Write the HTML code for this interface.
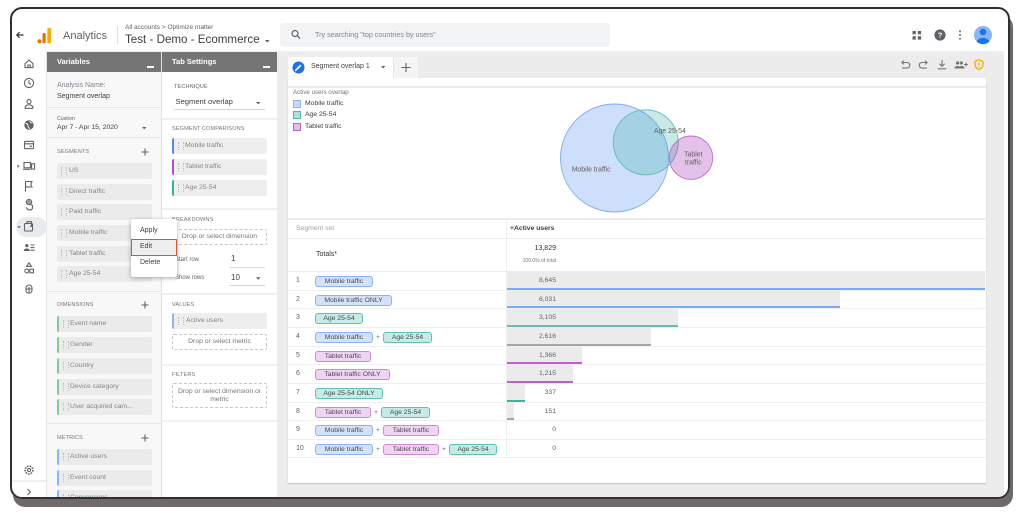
<!DOCTYPE html>
<html><head><meta charset="utf-8"><title>Analytics - Segment overlap</title>
<style>
*{margin:0;padding:0;box-sizing:border-box}
html,body{width:1024px;height:518px;background:#fff;overflow:hidden}
body{position:relative;font-family:"Liberation Sans",Arial,sans-serif;color:#3c4043}
.a{position:absolute}
.t{position:absolute;white-space:nowrap;line-height:10px;height:10px}
#clip{position:absolute;left:0;top:0;width:1024px;height:518px;clip-path:inset(9px 16px 21px 12px round 10px);background:#fff}
#frame{position:absolute;left:10px;top:7px;width:1000px;height:492px;border:2px solid #2f2f2f;border-radius:12px;box-shadow:3px 8px 0 0 #6f6a6a}
.hd{position:absolute;top:52px;height:20px;background:#757575}
.sec{font-size:5.6px;color:#757575;letter-spacing:.1px}
.vc{position:absolute;left:57px;width:95px;height:16px;background:#ebebeb;border-radius:2px;font-size:6.8px;color:#80868b;line-height:16px;padding-left:12px;white-space:nowrap}
.vc::before,.tc::before{content:"";position:absolute;left:4px;top:4px;width:4px;height:8px;border-left:1px dotted #bdbdbd;border-right:1px dotted #bdbdbd}
.dm{border-left:2px solid #81c995;padding-left:11px}
.mt{border-left:2px solid #8ab4f8;padding-left:11px}
.tc{position:absolute;left:172px;width:95px;height:16px;background:#eeeeee;border-radius:2px;font-size:6.8px;color:#80868b;line-height:16px;padding-left:11px;white-space:nowrap;border-left:2px solid}
.dash{position:absolute;left:172px;width:95px;border:1px dashed #c6c6c6;border-radius:2px;font-size:6.8px;color:#757575;text-align:center}
.sep{position:absolute;height:1px;background:#e6e6e6}
.row{position:absolute;left:288px;width:698px;height:18.65px;border-bottom:1px solid #efefef}
.rn{position:absolute;left:8px;top:4px;font-size:7px;line-height:10px;color:#5f6368}
.bar{position:absolute;left:218px;top:0;bottom:0;background:#ebebeb;border-bottom:2px solid}
.ch{position:absolute;left:27px;top:4px;height:11px;display:flex}
.c{display:block;height:11px;border:1px solid;border-radius:3px;font-size:6.8px;line-height:9px;text-align:center;color:#4a4a4a;white-space:nowrap}
.m{background:#d3e2fb;border-color:#8ab4f8}
.g{background:#c4ebe6;border-color:#5cc3b3}
.p{background:#f0d4f5;border-color:#d187dc}
.pl{width:10px;text-align:center;font-size:6.5px;line-height:11px;color:#5f6368}
.val{position:absolute;right:430px;top:4px;font-size:6.8px;line-height:10px;color:#5f6368}
</style></head><body>
<div id="clip">
  <!-- header -->
  <div class="a" style="left:117px;top:26px;width:1px;height:18px;background:#dadce0"></div>
  <div class="t" style="left:63px;top:30.5px;font-size:11px;color:#5f6368">Analytics</div>
  <div class="t" style="left:125px;top:23px;font-size:6.5px;color:#5f6368">All accounts &gt; Optimize matter</div>
  <div class="t" style="left:125px;top:34.5px;font-size:11.6px;color:#3c4043">Test - Demo - Ecommerce</div>
  <div class="a" style="left:280px;top:23px;width:330px;height:24px;background:#f1f3f4;border-radius:4px"></div>
  <div class="t" style="left:315px;top:30px;font-size:7.2px;color:#80868b">Try searching "top countries by users"</div>

  <!-- gray workspace -->
  <div class="a" style="left:47px;top:51px;width:957px;height:446px;background:#ececec"></div>
  <div class="a" style="left:46px;top:51px;width:1px;height:446px;background:#e6e6e6"></div>

  <!-- Variables panel -->
  <div class="a" style="left:47px;top:52px;width:114px;height:445px;background:#f8f8f8"></div>
  <div class="a" style="left:161px;top:52px;width:1px;height:445px;background:#e0e0e0"></div>
  <div class="hd" style="left:47px;width:114px"></div>
  <div class="t" style="left:57px;top:57px;font-size:7.5px;font-weight:bold;color:#fff">Variables</div>
  <div class="a" style="left:147px;top:66px;width:7px;height:1.5px;background:#fff"></div>
  <div class="t" style="left:57px;top:81px;font-size:7px;color:#80868b">Analysis Name:</div>
  <div class="t" style="left:57px;top:92px;font-size:7px;color:#3c4043">Segment overlap</div>
  <div class="sep" style="left:47px;top:107px;width:114px"></div>
  <div class="t" style="left:57px;top:114px;font-size:5.2px;color:#5f6368">Custom</div>
  <div class="t" style="left:57px;top:123px;font-size:6.8px;color:#3c4043">Apr 7 - Apr 15, 2020</div>
  <div class="sep" style="left:47px;top:137px;width:114px"></div>
  <div class="t sec" style="left:57px;top:147px">SEGMENTS</div>
  <div class="vc" style="top:163px">US</div>
  <div class="vc" style="top:184px">Direct traffic</div>
  <div class="vc" style="top:204px">Paid traffic</div>
  <div class="vc" style="top:225px">Mobile traffic</div>
  <div class="vc" style="top:246px">Tablet traffic</div>
  <div class="vc" style="top:266px">Age 25-54</div>
  <div class="sep" style="left:47px;top:291px;width:114px"></div>
  <div class="t sec" style="left:57px;top:300px">DIMENSIONS</div>
  <div class="vc dm" style="top:316px">Event name</div>
  <div class="vc dm" style="top:337px">Gender</div>
  <div class="vc dm" style="top:358px">Country</div>
  <div class="vc dm" style="top:379px">Device category</div>
  <div class="vc dm" style="top:399px">User acquired cam...</div>
  <div class="sep" style="left:47px;top:423px;width:114px"></div>
  <div class="t sec" style="left:57px;top:433px">METRICS</div>
  <div class="vc mt" style="top:449px">Active users</div>
  <div class="vc mt" style="top:470px">Event count</div>
  <div class="vc mt" style="top:490px">Conversions</div>

  <!-- Tab settings panel -->
  <div class="a" style="left:162px;top:52px;width:115px;height:445px;background:#fff"></div>
  <div class="hd" style="left:162px;width:115px"></div>
  <div class="t" style="left:172px;top:57px;font-size:7.5px;font-weight:bold;color:#fff">Tab Settings</div>
  <div class="a" style="left:263px;top:66px;width:7px;height:1.5px;background:#fff"></div>
  <div class="t sec" style="left:174px;top:82px;color:#5f6368">TECHNIQUE</div>
  <div class="t" style="left:175.5px;top:97px;font-size:7.6px;color:#3c4043">Segment overlap</div>
  <div class="a" style="left:174px;top:109px;width:91px;height:1px;background:#d6d6d6"></div>
  <div class="sep" style="left:162px;top:118px;width:115px;height:2px;background:#f0f0f0"></div>
  <div class="t sec" style="left:172px;top:124px">SEGMENT COMPARISONS</div>
  <div class="tc" style="top:138px;border-left-color:#4c8df6">Mobile traffic</div>
  <div class="tc" style="top:159px;border-left-color:#b14fc5">Tablet traffic</div>
  <div class="tc" style="top:180px;border-left-color:#2fb0a0">Age 25-54</div>
  <div class="sep" style="left:162px;top:208px;width:115px;height:2px;background:#f0f0f0"></div>
  <div class="t sec" style="left:172px;top:215px">BREAKDOWNS</div>
  <div class="dash" style="top:229px;height:16px;line-height:14px">Drop or select dimension</div>
  <div class="t" style="left:175px;top:255px;font-size:6px;color:#5f6368">Start row</div>
  <div class="t" style="left:231px;top:254px;font-size:8px;color:#3c4043">1</div>
  <div class="a" style="left:229px;top:267px;width:36px;height:1px;background:#d6d6d6"></div>
  <div class="t" style="left:175px;top:273px;font-size:6px;color:#5f6368">Show rows</div>
  <div class="t" style="left:231px;top:273px;font-size:8px;color:#3c4043">10</div>
  <div class="a" style="left:229px;top:285px;width:36px;height:1px;background:#d6d6d6"></div>
  <div class="sep" style="left:162px;top:293px;width:115px;height:2px;background:#f0f0f0"></div>
  <div class="t sec" style="left:172px;top:300px">VALUES</div>
  <div class="tc" style="top:313px;border-left-color:#8ab4f8;padding-left:12px">Active users</div>
  <div class="dash" style="top:334px;height:16px;line-height:14px">Drop or select metric</div>
  <div class="sep" style="left:162px;top:364px;width:115px;height:2px;background:#f0f0f0"></div>
  <div class="t sec" style="left:172px;top:370px">FILTERS</div>
  <div class="dash" style="top:383px;height:25px;line-height:8px;padding-top:4px">Drop or select dimension or<br>metric</div>
  <div class="sep" style="left:162px;top:420px;width:115px;height:2px;background:#f0f0f0"></div>

  <!-- report tabs -->
  <div class="a" style="left:288px;top:57px;width:105px;height:22px;background:#fff"></div>
  <div class="a" style="left:393px;top:57px;width:25px;height:21px;background:#f4f4f4;border-left:1px solid #e4e4e4"></div>
  <div class="t" style="left:311px;top:62px;font-size:7px;color:#444">Segment overlap 1</div>

  <!-- report card -->
  <div class="a" style="left:288px;top:78px;width:698px;height:405px;background:#fff;box-shadow:0 1px 1px rgba(0,0,0,.18)"></div>
  <div class="a" style="left:288px;top:86px;width:698px;height:2px;background:#ececec"></div>
  <div class="t" style="left:293px;top:88px;font-size:6.2px;color:#757575">Active users overlap</div>
  <div class="a" style="left:293px;top:100px;width:8px;height:8px;background:#c6dafc;border:1px solid #8ab4f8"></div>
  <div class="a" style="left:293px;top:111px;width:8px;height:8px;background:#b2dfdb;border:1px solid #4db6ac"></div>
  <div class="a" style="left:293px;top:123px;width:8px;height:8px;background:#e1bee7;border:1px solid #ba68c8"></div>
  <div class="t" style="left:305px;top:99px;font-size:6.8px;color:#3c4043">Mobile traffic</div>
  <div class="t" style="left:305px;top:110px;font-size:6.8px;color:#3c4043">Age 25-54</div>
  <div class="t" style="left:305px;top:122px;font-size:6.8px;color:#3c4043">Tablet traffic</div>

  <!-- table -->
  <div class="a" style="left:288px;top:218px;width:698px;height:2px;background:#ececec"></div>
  <div class="a" style="left:288px;top:238px;width:698px;height:1px;background:#eeeeee"></div>
  <div class="a" style="left:288px;top:271px;width:698px;height:1px;background:#eeeeee"></div>
  <div class="t" style="left:296px;top:224px;font-size:6.8px;color:#9aa0a6">Segment set</div>
  <div class="t" style="left:510px;top:224px;font-size:6.8px;font-weight:bold;color:#3c4043">+Active users</div>
  <div class="t" style="left:316px;top:250px;font-size:7px;color:#333">Totals*</div>
  <div class="t" style="right:468px;top:244px;font-size:7px;color:#333">13,829</div>
  <div class="t" style="right:468px;top:256px;font-size:5px;color:#757575">100.0% of total</div>

  <div class="row" style="top:272px"><div class="bar" style="width:479px;border-color:#7baaf7"></div><span class="rn">1</span><div class="ch"><span class="c m" style="width:58px">Mobile traffic</span></div><span class="val">8,645</span></div>
  <div class="row" style="top:290.65px"><div class="bar" style="width:334px;border-color:#7baaf7"></div><span class="rn">2</span><div class="ch"><span class="c m" style="width:77px">Mobile traffic ONLY</span></div><span class="val">6,031</span></div>
  <div class="row" style="top:309.3px"><div class="bar" style="width:172px;border-color:#5cc3b3"></div><span class="rn">3</span><div class="ch"><span class="c g" style="width:48px">Age 25-54</span></div><span class="val">3,105</span></div>
  <div class="row" style="top:327.95px"><div class="bar" style="width:145px;border-color:#a6a6a6"></div><span class="rn">4</span><div class="ch"><span class="c m" style="width:58px">Mobile traffic</span><span class="pl">+</span><span class="c g" style="width:49px">Age 25-54</span></div><span class="val">2,616</span></div>
  <div class="row" style="top:346.6px"><div class="bar" style="width:76px;border-color:#c45bd4"></div><span class="rn">5</span><div class="ch"><span class="c p" style="width:56px">Tablet traffic</span></div><span class="val">1,366</span></div>
  <div class="row" style="top:365.25px"><div class="bar" style="width:67px;border-color:#c45bd4"></div><span class="rn">6</span><div class="ch"><span class="c p" style="width:75px">Tablet traffic ONLY</span></div><span class="val">1,215</span></div>
  <div class="row" style="top:383.9px"><div class="bar" style="width:19px;border-color:#3fb3a3"></div><span class="rn">7</span><div class="ch"><span class="c g" style="width:68px">Age 25-54 ONLY</span></div><span class="val">337</span></div>
  <div class="row" style="top:402.55px"><div class="bar" style="width:8px;border-color:#a6a6a6"></div><span class="rn">8</span><div class="ch"><span class="c p" style="width:56px">Tablet traffic</span><span class="pl">+</span><span class="c g" style="width:49px">Age 25-54</span></div><span class="val">151</span></div>
  <div class="row" style="top:421.2px"><span class="rn">9</span><div class="ch"><span class="c m" style="width:58px">Mobile traffic</span><span class="pl">+</span><span class="c p" style="width:56px">Tablet traffic</span></div><span class="val">0</span></div>
  <div class="row" style="top:439.85px"><span class="rn">10</span><div class="ch"><span class="c m" style="width:58px">Mobile traffic</span><span class="pl">+</span><span class="c p" style="width:56px">Tablet traffic</span><span class="pl">+</span><span class="c g" style="width:48px">Age 25-54</span></div><span class="val">0</span></div>
  <div class="a" style="left:505.5px;top:219px;width:1px;height:239px;background:#eeeeee"></div>

  <!-- SVG overlay: icons + venn -->
  <svg class="a" style="left:0;top:0" width="1024" height="518" viewBox="0 0 1024 518">
    <!-- nav selected pill -->
    <rect x="16" y="217" width="31" height="20" rx="10" fill="#e8eaed"/>
    <!-- back arrow -->
    <path d="M23.5 35H16.8M19.6 32.2L16.8 35l2.8 2.8" stroke="#333" stroke-width="1.2" fill="none"/>
    <!-- logo -->
    <circle cx="39.5" cy="41.2" r="2" fill="#e37400"/>
    <rect x="42.5" y="33" width="3.2" height="10.3" rx="1.2" fill="#e37400"/>
    <rect x="47.3" y="28" width="3.8" height="15.3" rx="1.3" fill="#f9ab00"/>
    <!-- header dropdown -->
    <path d="M265 40h4.6l-2.3 2.6z" fill="#5f6368"/>
    <!-- search icon -->
    <circle cx="295" cy="33.5" r="3" stroke="#5f6368" stroke-width="1.2" fill="none"/>
    <path d="M297.2 35.7l2.8 2.8" stroke="#5f6368" stroke-width="1.3"/>
    <!-- right header icons -->
    <g fill="#5f6368">
      <rect x="912.5" y="31" width="3.3" height="3.3"/><rect x="917.8" y="31" width="3.3" height="3.3"/>
      <rect x="912.5" y="36.3" width="3.3" height="3.3"/><rect x="917.8" y="36.3" width="3.3" height="3.3"/>
      <circle cx="940" cy="35" r="5.6"/>
      <circle cx="960" cy="31.3" r=".95"/><circle cx="960" cy="35" r=".95"/><circle cx="960" cy="38.7" r=".95"/>
    </g>
    <text x="940" y="37.6" font-family="Liberation Sans, Arial, sans-serif" font-size="7.5" font-weight="bold" fill="#fff" text-anchor="middle">?</text>
    <circle cx="983" cy="35" r="9" fill="#8ab4f8"/>
    <circle cx="983" cy="32" r="3.2" fill="#1a73e8"/>
    <path d="M976.5 41.5c1.5-2.6 4-3.6 6.5-3.6s5 1 6.5 3.6a9 9 0 0 1-13 0z" fill="#1a73e8"/>

    <!-- nav icons -->
    <g fill="none" stroke="#5f6368" stroke-width="1.1">
      <path d="M25 63.6L29 60l4 3.6V67.6H25Z"/><path d="M27.8 67.6v-2.6h2.4v2.6"/>
      <circle cx="29" cy="83" r="4.6"/><path d="M29 80.3V83.2l2 1.2"/>
      <circle cx="29" cy="101.6" r="2"/><path d="M25.2 108.3v-1.2c0-1.4 2.4-2.3 3.8-2.3s3.8.9 3.8 2.3v1.2z"/>
      <rect x="24.5" y="141.3" width="9" height="7.4" rx="1"/><path d="M24.5 143.8h9M29.5 146.3h2.5"/>
      <rect x="24" y="162.5" width="6.5" height="5.3"/><rect x="31.6" y="163.8" width="3" height="5.3"/><path d="M23 169.3h7.5"/>
      <path d="M25.5 191.5V181.5h6.5l-1.2 2.7 1.2 2.7h-6.5"/>
      <circle cx="29" cy="202" r="2.6"/><path d="M28 204.2v-2.3a1 1 0 0 1 2 0v2.5l2.5 1v2.8l-1 1.6h-3.5l-2-2.5"/>
      <rect x="24.5" y="223.5" width="8" height="7.5" rx="1"/><path d="M27 223.5v-1.8h4.5v4.5h-1.5"/>
      <path d="M30.5 245h4M30.5 247.6h4M30.5 250.2h4"/>
      <path d="M29 262.8l2.4 3.6h-4.8z"/><circle cx="26.8" cy="271" r="1.9"/><rect x="29.8" y="269.2" width="3.6" height="3.6"/>
      <rect x="26" y="285" width="6" height="8.2" rx="3"/><path d="M26 289h6M29 287v5"/>
      <circle cx="29" cy="470" r="3.9" stroke-width="1.6" stroke-dasharray="1.6 1.1"/><circle cx="29" cy="470" r="1.6"/>
      <path d="M27.5 489l3 3-3 3"/>
    </g>
    <circle cx="29" cy="125" r="4.7" fill="#5f6368"/>
    <path d="M25.5 123.5c1.5 0 2.5 1 2.5 2.5s1.5 1.5 1.5 3M30 121c0 1.5 1 2 2.5 2" stroke="#fff" stroke-width=".9" fill="none"/>
    <circle cx="26.8" cy="245.6" r="1.6" fill="#5f6368"/>
    <path d="M23.8 251v-.6c0-1.2 1.8-1.9 3-1.9s3 .7 3 1.9v.6z" fill="#5f6368"/>
    <path d="M17.5 164.4l2.2 1.7-2.2 1.7z" fill="#5f6368"/>
    <path d="M17.3 226.2h3.6l-1.8 2.1z" fill="#5f6368"/>
    <path d="M12 481h34" stroke="#e0e0e0" stroke-width="1"/>

    <!-- variables plus / dropdowns -->
    <g stroke="#5f6368" stroke-width="1.1">
      <path d="M141.5 152h7M145 148.5v7"/>
      <path d="M141.5 305h7M145 301.5v7"/>
      <path d="M141.5 438h7M145 434.5v7"/>
      <path d="M401.5 67.5h9M406 63v9"/>
    </g>
    <g fill="#5f6368">
      <path d="M142 127h4.4l-2.2 2.4z"/>
      <path d="M256 102h4.4l-2.2 2.4z"/>
      <path d="M256 277.3h4.4l-2.2 2.4z"/>
      <path d="M381 66h4.4l-2.2 2.4z"/>
    </g>

    <!-- tab pencil -->
    <circle cx="298.5" cy="67.5" r="6" fill="#1a73e8"/>
    <path d="M295.8 70.2l4.6-4.6" stroke="#fff" stroke-width="1.7" stroke-linecap="round"/>

    <!-- report toolbar icons -->
    <g fill="none" stroke="#757575" stroke-width="1.1">
      <path d="M902 62.5h5a2.8 2.8 0 0 1 0 5.6h-5"/><path d="M903.8 60.6l-1.9 1.9 1.9 1.9"/>
      <path d="M927 62.5h-5a2.8 2.8 0 0 0 0 5.6h5"/><path d="M925.2 60.6l1.9 1.9-1.9 1.9"/>
      <path d="M942 60v6.2M939.3 63.6l2.7 2.7 2.7-2.7M937.8 68.8h8.4"/>
      <path d="M966 62.5v4M964 64.5h4"/>
    </g>
    <g fill="#757575">
      <circle cx="957.5" cy="63" r="1.6"/><circle cx="961.3" cy="63" r="1.6"/>
      <path d="M954.5 68.5v-.5c0-1.2 1.5-2 3-2s3 .8 3 2v.5z"/><path d="M958.5 68.5v-.5c0-1.2 1.5-2 3-2s3 .8 3 2v.5z"/>
    </g>
    <path d="M979 59.8l4 1.6v3c0 2.6-1.7 4.3-4 5-2.3-.7-4-2.4-4-5v-3z" fill="none" stroke="#f9ab00" stroke-width="1.3"/>
    <path d="M979 62.3v3" stroke="#f9ab00" stroke-width="1.2"/><circle cx="979" cy="66.8" r=".7" fill="#f9ab00"/>

    <!-- venn -->
    <circle cx="614.5" cy="158" r="54" fill="rgb(66,133,244)" fill-opacity=".26" stroke="#7eaaf5" stroke-width=".9"/>
    <circle cx="645.7" cy="142.3" r="32.5" fill="rgb(38,166,154)" fill-opacity=".25" stroke="#5dbfb1" stroke-width=".9"/>
    <circle cx="691" cy="157.7" r="21.7" fill="rgb(171,71,188)" fill-opacity=".33" stroke="#c06ad0" stroke-width=".9"/>
    <g font-family="Liberation Sans, Arial, sans-serif" font-size="6.9" fill="#616161">
      <text x="571.7" y="171.4">Mobile traffic</text>
      <text x="654" y="133">Age 25-54</text>
      <text x="693.3" y="156.4" text-anchor="middle">Tablet</text>
      <text x="693.3" y="164.4" text-anchor="middle">traffic</text>
    </g>
  </svg>

  <!-- context menu -->
  <div class="a" style="left:131px;top:219px;width:46px;height:58px;background:#fff;border-radius:2px;box-shadow:0 1px 4px rgba(0,0,0,.35)"></div>
  <div class="a" style="left:131px;top:239px;width:46px;height:17px;background:#eeeeee;border:1.5px solid #e5512f"></div>
  <div class="t" style="left:140px;top:226px;font-size:7px;color:#3c4043">Apply</div>
  <div class="t" style="left:140px;top:242px;font-size:7px;color:#3c4043">Edit</div>
  <div class="t" style="left:140px;top:258px;font-size:7px;color:#3c4043">Delete</div>
</div>
<div id="frame"></div>
</body></html>
